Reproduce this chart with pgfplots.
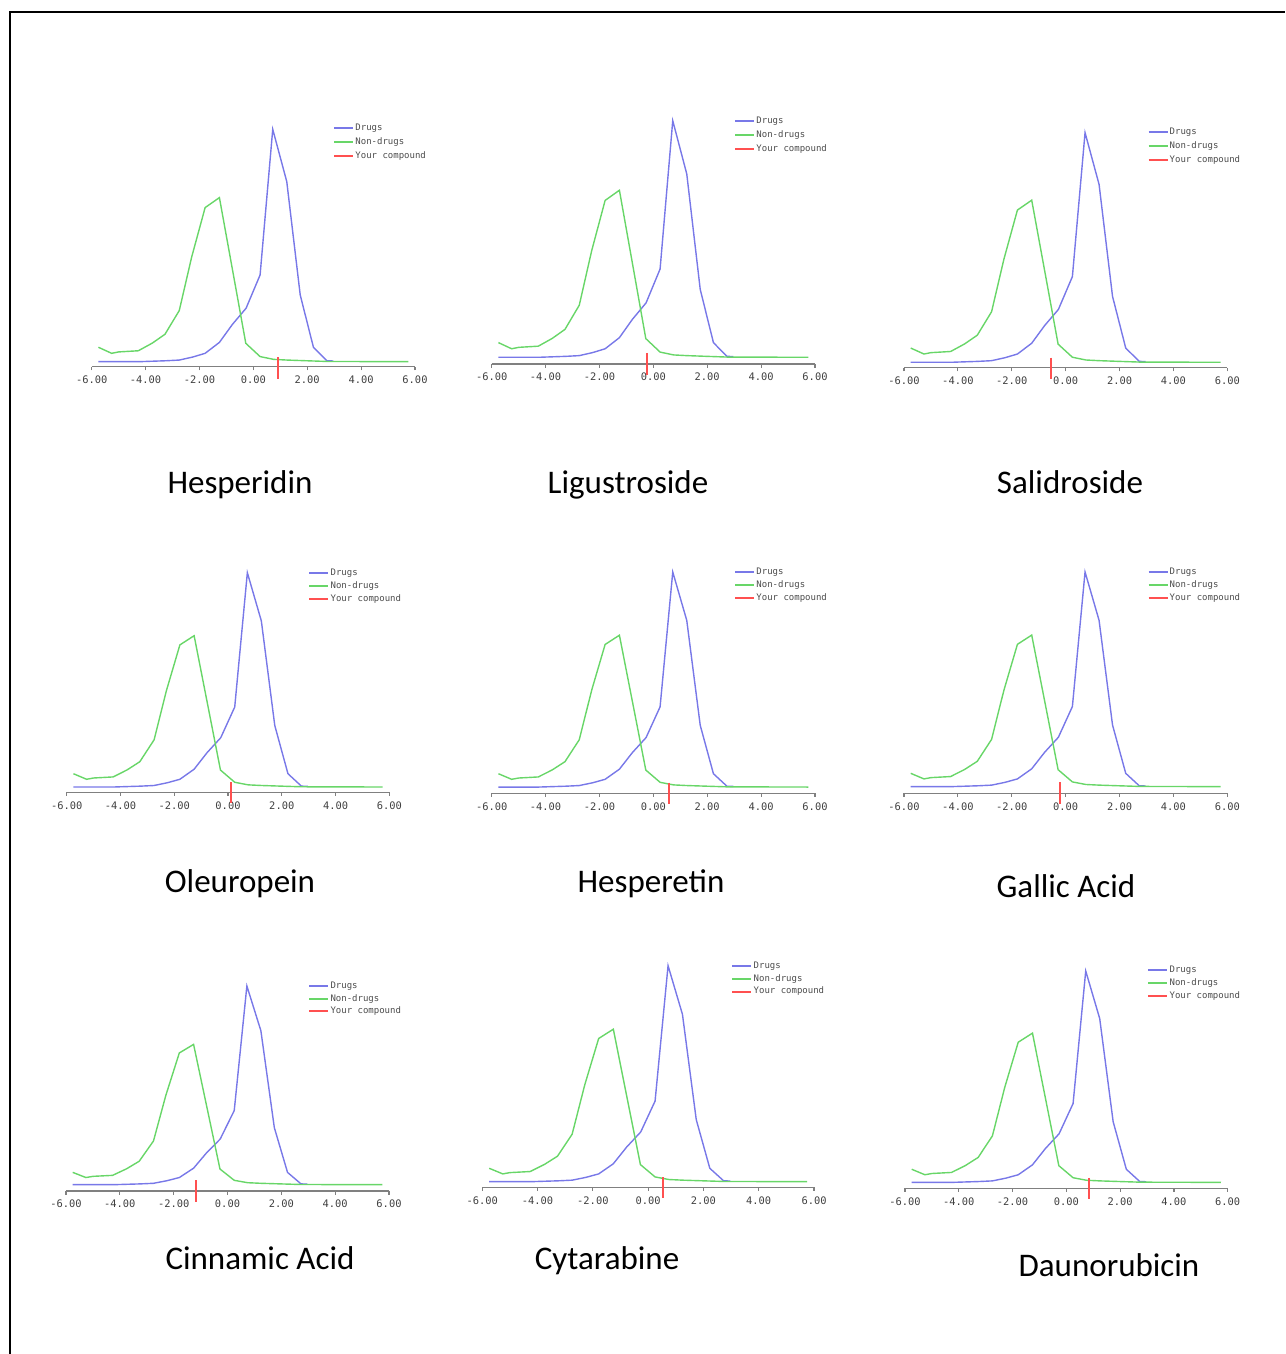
\documentclass[border=0pt]{standalone}
\usepackage{pgfplots}
\usepackage{pgfplotstable}
\pgfplotsset{compat=1.18}
\usepackage{fontspec}
\newfontfamily\titlefont{Carlito}
\newfontfamily\monofont{DejaVu Sans Mono}
\newcommand{\tickfont}{\monofont\fontsize{5.2}{6}\selectfont}
\newcommand{\legfont}{\monofont\fontsize{4.5}{5}\selectfont}
\definecolor{drugblue}{RGB}{120,120,232}
\definecolor{nongreen}{RGB}{104,214,104}
\definecolor{compred}{RGB}{255,80,80}

\pgfplotstableread{
x y
-5.75 0
-5.25 0
-4.75 0
-4.25 0
-3.75 0.002
-3.25 0.004
-2.75 0.007
-2.25 0.02
-1.79 0.036
-1.26 0.083
-0.78 0.16
-0.27 0.23
0.25 0.373
0.72 1.0
1.24 0.775
1.74 0.287
2.23 0.062
2.73 0.004
2.97 0.003
}\drugs

\pgfplotstableread{
x y
-5.75 0.062
-5.26 0.036
-5.0 0.042
-4.27 0.047
-3.75 0.08
-3.28 0.118
-2.75 0.22
-2.29 0.45
-1.79 0.663
-1.26 0.706
-0.75 0.38
-0.28 0.079
0.25 0.022
0.75 0.010
1.25 0.007
1.98 0.004
2.73 0.001
5.75 0.0
}\nondrugs

\pgfplotsset{panel/.style={
  scale only axis, clip=false,
  xmin=-6, xmax=6, ymax=1,
  axis x line*=bottom, axis y line=none, ytick=\empty,
  x axis line style={-, draw=gray, line width=0.7pt},
  xtick={-6,-4,-2,0,2,4,6},
  xticklabels={-6.00,-4.00,-2.00,0.00,2.00,4.00,6.00},
  xtick align=outside, major tick length=1.8pt,
  xtick style={draw=gray, line width=0.6pt},
  xticklabel style={font=\tickfont, text=black!75, inner sep=1pt, yshift=-1.5pt},
  legend cell align=left,
  legend image code/.code={\draw[##1, line width=1pt] (0pt,0pt) -- (9.5pt,0pt);},
  legend style={draw=none, fill=none, anchor=north west, font=\legfont,
    text=black!70, inner sep=0pt,
    nodes={inner sep=0.6pt, text height=3.3pt, text depth=0.9pt}},
  every axis plot/.append style={line width=0.7pt},
}}

\newcommand{\curves}[3]{% red x, red top, red bottom
  \addplot[drugblue, no markers] table {\drugs};
  \addlegendentry{Drugs}
  \addplot[nongreen, no markers] table {\nondrugs};
  \addlegendentry{Non-drugs}
  \addplot[compred, no markers, line width=1pt] coordinates {(#1,#2) (#1,#3)};
  \addlegendentry{Your compound}
}

\begin{document}
\begin{tikzpicture}
\useasboundingbox (0,0) rectangle (642.5pt,677pt);
\draw[line width=1pt, black] (5pt,0pt) -- (5pt,671pt) -- (642.5pt,671pt);

% Row 1
\begin{axis}[panel, at={(45.85pt,493.65pt)}, anchor=south west,
  width=161.65pt, height=118.7pt, ymin=-0.0215,
  legend style={at={(0.746,1.031)}, row sep=1.6pt}]
\curves{0.93}{0.019}{-0.076}
\end{axis}
\begin{axis}[panel, at={(245.85pt,495pt)}, anchor=south west,
  width=161.65pt, height=121.65pt, ymin=-0.0283,
  legend style={at={(0.749,1.022)}, row sep=1.6pt}]
\curves{-0.25}{0.019}{-0.075}
\end{axis}
\begin{axis}[panel, at={(452pt,493.15pt)}, anchor=south west,
  width=161.65pt, height=117.5pt, ymin=-0.0235,
  legend style={at={(0.752,1.026)}, row sep=1.6pt}]
\curves{-0.55}{0.020}{-0.071}
\end{axis}

% Row 2
\begin{axis}[panel, at={(33.35pt,280.85pt)}, anchor=south west,
  width=161.3pt, height=109.8pt, ymin=-0.0247,
  legend style={at={(0.748,1.023)}, row sep=0.9pt}]
\curves{0.13}{0.021}{-0.076}
\end{axis}
\begin{axis}[panel, at={(245.85pt,280.35pt)}, anchor=south west,
  width=161.65pt, height=110.65pt, ymin=-0.029,
  legend style={at={(0.749,1.024)}, row sep=0.9pt}]
\curves{0.58}{0.021}{-0.080}
\end{axis}
\begin{axis}[panel, at={(452pt,280.35pt)}, anchor=south west,
  width=161.65pt, height=110.65pt, ymin=-0.031,
  legend style={at={(0.752,1.024)}, row sep=0.9pt}]
\curves{-0.21}{0.021}{-0.082}
\end{axis}

% Row 3
\begin{axis}[panel, at={(33pt,81.5pt)}, anchor=south west,
  width=161.5pt, height=102.5pt, ymin=-0.0317,
  legend style={at={(0.749,1.026)}, row sep=0.7pt}]
\curves{-1.17}{0.023}{-0.087}
\end{axis}
\begin{axis}[panel, at={(241.15pt,83.35pt)}, anchor=south west,
  width=165.85pt, height=110.8pt, ymin=-0.026,
  legend style={at={(0.75,1.023)}, row sep=0.9pt}]
\curves{0.54}{0.021}{-0.077}
\end{axis}
\begin{axis}[panel, at={(452.5pt,82.85pt)}, anchor=south west,
  width=161.35pt, height=108.65pt, ymin=-0.028,
  legend style={at={(0.75,1.029)}, row sep=0.9pt}]
\curves{0.85}{0.021}{-0.080}
\end{axis}

% Titles
\begin{scope}[every node/.style={anchor=base, inner sep=0pt, font=\titlefont\fontsize{16.5}{19}\selectfont}]
\node at (120pt,430pt) {Hesperidin};
\node at (314pt,430pt) {Ligustroside};
\node at (535pt,430pt) {Salidroside};
\node at (120pt,230.5pt) {Oleuropein};
\node at (325.5pt,230.5pt) {Hesperetin};
\node at (533pt,228pt) {Gallic Acid};
\node at (130pt,42pt) {Cinnamic Acid};
\node at (303.5pt,42pt) {Cytarabine};
\node at (554.5pt,38.5pt) {Daunorubicin};
\end{scope}
\end{tikzpicture}
\end{document}
